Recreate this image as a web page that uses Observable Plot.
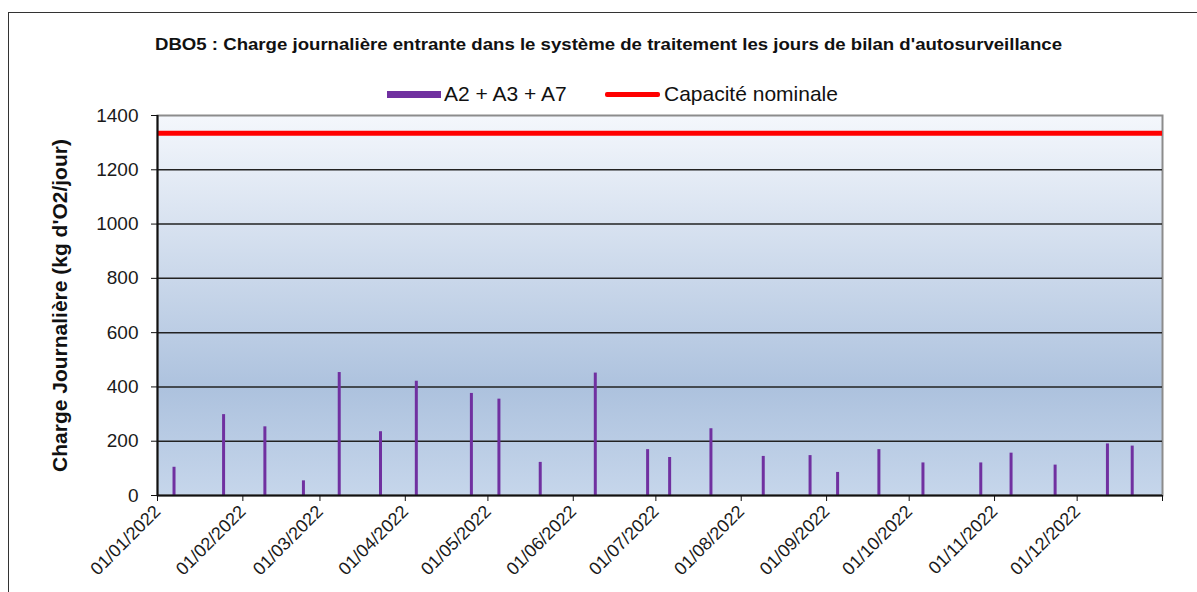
<!DOCTYPE html>
<html><head><meta charset="utf-8">
<script src="https://cdn.jsdelivr.net/npm/d3@7"></script>
<script src="https://cdn.jsdelivr.net/npm/@observablehq/plot@0.6"></script>
<style>
body{margin:0;width:1197px;height:592px;overflow:hidden;background:#fff;font-family:"Liberation Sans",Arial,sans-serif;color:#111;}
#wrap{position:relative;width:1197px;height:592px;overflow:hidden;}
#frame{position:absolute;left:8px;top:12px;width:1300px;height:700px;border:1.5px solid #333;box-sizing:border-box;}
#title{position:absolute;left:155px;top:35px;white-space:nowrap;font-weight:bold;font-size:16.5px;line-height:18px;transform-origin:0 0;}
.sw{position:absolute;}
.lt{position:absolute;top:84px;font-size:21px;line-height:20px;white-space:nowrap;}
#chart{position:absolute;left:0;top:100px;}
</style></head>
<body>
<div id="wrap">
  <div id="frame"></div>
  <div id="title"></div>
  <div class="sw" style="left:387px;top:91px;width:54px;height:7px;background:#7030a0"></div>
  <div class="lt" id="lg1" style="left:444px"></div>
  <div class="sw" style="left:605px;top:92px;width:55px;height:5px;background:#ff0000;border-radius:2px"></div>
  <div class="lt" id="lg2" style="left:664px"></div>
  <div id="chart"></div>
</div>
<script>
const titleText = "DBO5 : Charge journalière entrante dans le système de traitement les jours de bilan d'autosurveillance";
const seriesName = "A2 + A3 + A7";
const capacityName = "Capacité nominale";
const yLabel = "Charge Journalière (kg d'O2/jour)";

const dates = ["2022-01-07","2022-01-25","2022-02-09","2022-02-23","2022-03-08","2022-03-23",
  "2022-04-05","2022-04-25","2022-05-05","2022-05-20","2022-06-09","2022-06-28",
  "2022-07-06","2022-07-21","2022-08-09","2022-08-26","2022-09-05","2022-09-20",
  "2022-10-06","2022-10-27","2022-11-07","2022-11-23","2022-12-12","2022-12-21"];
const values = [104,298,253,54,453,235,421,376,355,122,451,169,140,246,144,147,85,169,120,120,156,112,190,182];
const capacity = 1335;
const yTicks = [0,200,400,600,800,1000,1200,1400];
const xStart = "2022-01-01", xEnd = "2023-01-01";

const titleEl = document.getElementById("title");
titleEl.textContent = titleText;
titleEl.style.transform = "scaleX(" + (907 / titleEl.getBoundingClientRect().width) + ")";
document.getElementById("lg1").textContent = seriesName;
document.getElementById("lg2").textContent = capacityName;

const data = dates.map((d,i)=>({date:new Date(d), value:values[i]}));
const d0 = new Date(xStart), d1 = new Date(xEnd);
const monthTicks = d3.utcMonth.range(d0, d3.utcDay.offset(d1,1));
const fmt = d3.utcFormat("%d/%m/%Y");

const chart = Plot.plot({
  width:1197, height:492, marginTop:15, marginBottom:97, marginLeft:157, marginRight:35,
  style:{fontFamily:"Liberation Sans, Arial, sans-serif", color:"#1a1a1a", background:"transparent", overflow:"visible"},
  x:{type:"utc", domain:[d0,d1]},
  y:{domain:[0,1400]},
  marks:[
    Plot.frame({fill:"url(#bgGrad)", stroke:"#8c8c8c", strokeWidth:2}),
    Plot.ruleY(yTicks.filter(d=>d>0 && d<1400), {stroke:"#222", strokeWidth:1.5}),
    Plot.ruleX(data, {x:"date", y1:0, y2:"value", stroke:"#7030a0", strokeWidth:3}),
    Plot.ruleY([capacity], {stroke:"#ff0000", strokeWidth:5}),
    Plot.ruleX([d0], {stroke:"#111", strokeWidth:2}),
    Plot.ruleY([0], {stroke:"#111", strokeWidth:2}),
    Plot.axisY({ticks:yTicks, tickSize:6, tickPadding:13, fontSize:19, label:null, tickFormat:d=>String(d), stroke:"#111"}),
    Plot.axisX({ticks:monthTicks, tickSize:6, tickPadding:7, tickRotate:-45, fontSize:18, label:null,
      tickFormat:d=> (+d === +d1 ? "" : fmt(d)), stroke:"#111"}),
    Plot.text([yLabel], {frameAnchor:"left", textAnchor:"middle", dx:-97, rotate:-90, fontSize:21, fontWeight:"bold", fill:"#111"})
  ]
});

const NS = "http://www.w3.org/2000/svg";
const defs = document.createElementNS(NS,"defs");
const lg = document.createElementNS(NS,"linearGradient");
lg.setAttribute("id","bgGrad"); lg.setAttribute("x1","0"); lg.setAttribute("y1","0"); lg.setAttribute("x2","0"); lg.setAttribute("y2","1");
[["0%","#f4f7fc"],["72%","#adc2de"],["100%","#c6d6eb"]].forEach(([o,c])=>{
  const s = document.createElementNS(NS,"stop"); s.setAttribute("offset",o); s.setAttribute("stop-color",c); lg.appendChild(s);
});
defs.appendChild(lg);
chart.insertBefore(defs, chart.firstChild);
document.getElementById("chart").appendChild(chart);
</script>
</body></html>
